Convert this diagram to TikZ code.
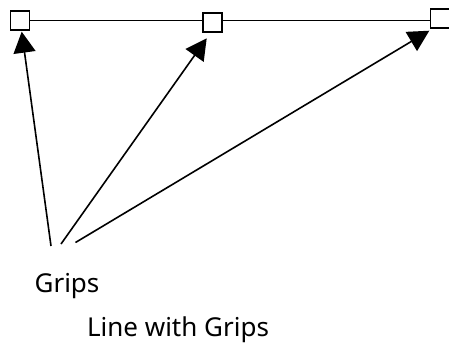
\documentclass[tikz,border=0pt]{standalone}
\usepackage{fontspec}
\setmainfont{Noto Sans}
\usetikzlibrary{arrows.meta}
\begin{document}
\begin{tikzpicture}[x=1pt,y=-1pt,
  grip/.style={draw=black,line width=1.8pt,fill=white,minimum size=19pt,inner sep=0pt},
  conn/.style={draw=black,line width=1.8pt},
  pointer/.style={draw=black,line width=1.6pt,-{Triangle[length=21pt,width=22pt]}},
  lbl/.style={font=\fontsize{26}{31}\selectfont,inner sep=0pt,anchor=base}]
\useasboundingbox (0,0) rectangle (449,345);
\node[grip] (g1) at (20,20.5) {};
\node[grip] (g2) at (212.5,22.5) {};
\node[grip] (g3) at (440,18.5) {};
\draw[conn] (g1.east) -- (g2.west |- g1.east);
\draw[conn] (g2.east |- g1.east) -- (g3.west |- g1.east);
\node[grip] at (g2) {};
\node[grip] at (g3) {};
\node[grip] at (g1) {};
\coordinate (s1) at (51,246);
\coordinate (s2) at (61,244);
\coordinate (s3) at (75.5,242.5);
\coordinate (t1) at (21.7,31.7);
\coordinate (t2) at (206.7,38.3);
\coordinate (t3) at (429.3,30.7);
\draw[pointer] (s1) -- (t1);
\draw[pointer] (s2) -- (t2);
\draw[pointer] (s3) -- (t3);
\node[lbl] (grips) at (67,292.5) {Grips};
\node[lbl] (title) at (178,336.5) {Line with Grips};
\end{tikzpicture}
\end{document}
